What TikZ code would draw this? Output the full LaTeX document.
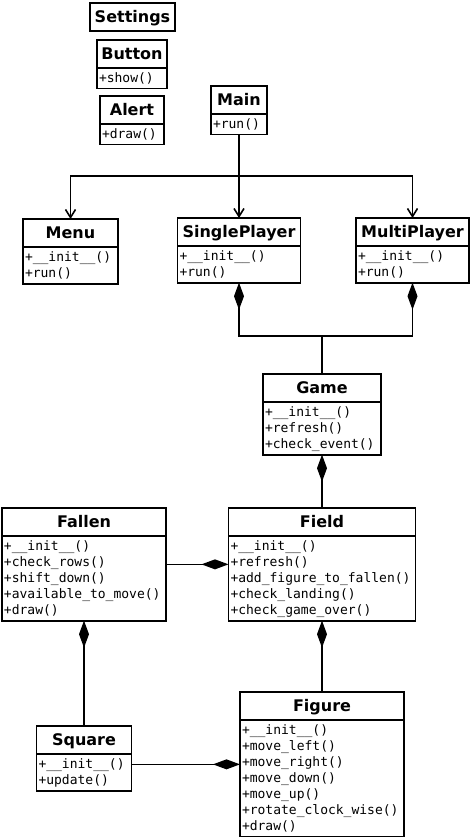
\documentclass[tikz,border=0pt]{standalone}
\usepackage{fontspec}
\usetikzlibrary{arrows.meta,shapes.multipart}
\newfontfamily\clsfont{DejaVu Sans}
\newfontfamily\mthfont{DejaVu Sans Mono}
\newcommand\clsname[1]{\makebox[\hsize][c]{\rule[-6.4pt]{0pt}{23.5pt}\clsfont\bfseries\fontsize{16}{18}\selectfont #1}}
\newcommand\mln{\rule[-4pt]{0pt}{16pt}}

\begin{document}
\begin{tikzpicture}[x=1pt,y=-1pt,line width=1.6pt,
  umlclass/.style={draw,rectangle split,rectangle split parts=2,anchor=north,align=left,inner xsep=2pt,inner ysep=1.5pt,outer sep=0pt,font=\mthfont\fontsize{13}{16}\selectfont},
  gen/.style={-{Straight Barb[length=8pt,width=10pt]}},
  comp/.style={{Diamond[length=27pt,width=10pt]}-},
  compto/.style={-{Diamond[length=27pt,width=10pt]}}]
\useasboundingbox (0,0) rectangle (470,837);
\node[umlclass,rectangle split parts=1,text width=81pt] (cls_settings) at (132.5,3) {\clsname{Settings}};
\node[umlclass,text width=66pt] (cls_button) at (132,40) {\clsname{Button}\nodepart{second}\mln+show()};
\node[umlclass,text width=60pt] (cls_alert) at (132,96) {\clsname{Alert}\nodepart{second}\mln+draw()};
\node[umlclass,text width=52pt] (cls_main) at (239,86) {\clsname{Main}\nodepart{second}\mln+run()};
\node[umlclass,text width=91pt] (cls_menu) at (70.5,219) {\clsname{Menu}\nodepart{second}\mln+\_\_init\_\_()\\\mln+run()};
\node[umlclass,text width=119pt] (cls_single) at (239,218) {\clsname{SinglePlayer}\nodepart{second}\mln+\_\_init\_\_()\\\mln+run()};
\node[umlclass,text width=109pt] (cls_multi) at (412.5,218) {\clsname{MultiPlayer}\nodepart{second}\mln+\_\_init\_\_()\\\mln+run()};
\node[umlclass,text width=114pt] (cls_game) at (322,374) {\clsname{Game}\nodepart{second}\mln+\_\_init\_\_()\\\mln+refresh()\\\mln+check\_event()};
\node[umlclass,text width=160pt] (cls_fallen) at (84,508) {\clsname{Fallen}\nodepart{second}\mln+\_\_init\_\_()\\\mln+check\_rows()\\\mln+shift\_down()\\\mln+available\_to\_move()\\\mln+draw()};
\node[umlclass,text width=183pt] (cls_field) at (322,508) {\clsname{Field}\nodepart{second}\mln+\_\_init\_\_()\\\mln+refresh()\\\mln+add\_figure\_to\_fallen()\\\mln+check\_landing()\\\mln+check\_game\_over()};
\node[umlclass,text width=91pt] (cls_square) at (84,726) {\clsname{Square}\nodepart{second}\mln+\_\_init\_\_()\\\mln+update()};
\node[umlclass,text width=160pt] (cls_figure) at (322,692) {\clsname{Figure}\nodepart{second}\mln+\_\_init\_\_()\\\mln+move\_left()\\\mln+move\_right()\\\mln+move\_down()\\\mln+move\_up()\\\mln+rotate\_clock\_wise()\\\mln+draw()};
\coordinate (fork) at (239,176);
\draw (cls_main.south) -- (fork);
\draw[gen] (fork) -| (cls_menu.north);
\draw[gen] (fork) -- (cls_single.north);
\draw[gen] (fork) -| (cls_multi.north);
\draw[comp] (cls_single.south) -- ++(0,53) -| (cls_game.north);
\draw[comp] (cls_multi.south) -- ++(0,53) -| (cls_game.north);
\draw[comp] (cls_game.south) -- (cls_field.north);
\draw[compto] (cls_fallen.east) -- (cls_field.west);
\draw[comp] (cls_fallen.south) -- (cls_square.north);
\draw[comp] (cls_field.south) -- (cls_figure.north);
\draw[compto] (cls_square.east |- cls_figure.west) -- (cls_figure.west);
\end{tikzpicture}
\end{document}
